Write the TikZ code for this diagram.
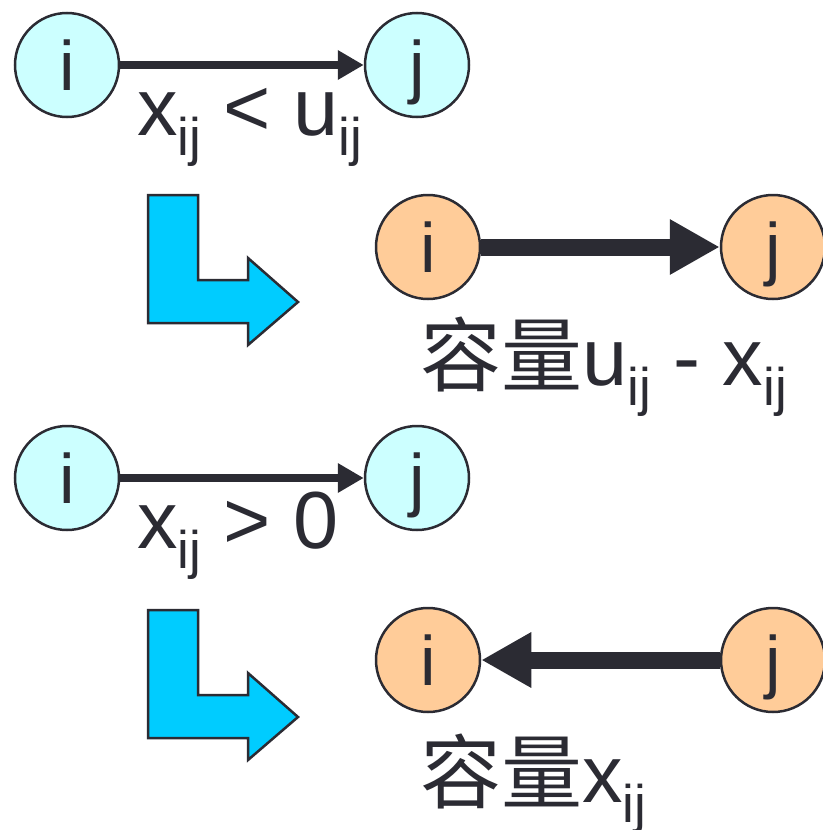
\documentclass[tikz,border=0pt]{standalone}
\usepackage{fontspec}
\setmainfont{Liberation Sans}
\newfontfamily\cjk{Noto Sans CJK SC}
\usetikzlibrary{arrows.meta,calc}
\definecolor{ink}{HTML}{2B2B33}
\definecolor{lcyan}{HTML}{CCFFFF}
\definecolor{lorange}{HTML}{FFCC99}
\definecolor{bcyan}{HTML}{00CCFF}
\newcommand{\sbj}[1]{\raisebox{-20pt}{\fontsize{53}{53}\selectfont #1}}
\begin{document}
\begin{tikzpicture}[x=1pt,y=-1pt,
  vert/.style={circle,draw=ink,line width=2.5pt,minimum size=104pt,inner sep=0pt},
  cv/.style={vert,fill=lcyan},
  ov/.style={vert,fill=lorange},
  letter/.style={anchor=base,inner sep=0pt,text=ink,font=\fontsize{70}{70}\selectfont},
  lbl/.style={anchor=base west,inner sep=0pt,text=ink,font=\fontsize{81}{81}\selectfont},
  thinarrow/.style={draw=ink,line width=8pt,-{Triangle[length=26pt,width=28pt]}},
  thickarrow/.style={draw=ink,line width=17pt,-{Triangle[length=50pt,width=52pt]}},
  bentarrow/.style={fill=bcyan,draw=ink,line width=2.5pt,line join=miter}]
\useasboundingbox (0,0) rectangle (822,830);

% row 1
\node[cv] (i1) at (67,65) {};
\node[cv] (j1) at (417,65) {};
\node[letter] (ti1) at (67,90) {i};
\node[letter] (tj1) at (417,90) {j};
\draw[thinarrow] (i1) -- (j1);
\node[lbl] (l1) at (137,135) {x\sbj{ij} < u\sbj{ij}};

% bent arrow 1
\draw[bentarrow] (148,195) -- (198,195) -- (198,280) -- (248,280) -- (248,258)
  -- (298,302) -- (248,345) -- (248,323) -- (148,323) -- cycle;

% row 2
\node[ov] (i2) at (428,247) {};
\node[ov] (j2) at (773,247) {};
\node[letter] (ti2) at (428,272) {i};
\node[letter] (tj2) at (773,272) {j};
\draw[thickarrow] (i2) -- (j2);
\node[lbl] (l2) at (420,385) {{\cjk 容量}u\sbj{ij} - x\sbj{ij}};

% row 3
\node[cv] (i3) at (67,478) {};
\node[cv] (j3) at (417,478) {};
\node[letter] (ti3) at (67,503) {i};
\node[letter] (tj3) at (417,503) {j};
\draw[thinarrow] (i3) -- (j3);
\node[lbl] (l3) at (137,548) {x\sbj{ij} > 0};

% bent arrow 2
\draw[bentarrow] (148,610) -- (198,610) -- (198,695) -- (248,695) -- (248,673)
  -- (298,717) -- (248,760) -- (248,738) -- (148,738) -- cycle;

% row 4
\node[ov] (i4) at (428,660) {};
\node[ov] (j4) at (773,660) {};
\node[letter] (ti4) at (428,685) {i};
\node[letter] (tj4) at (773,685) {j};
\draw[thickarrow] (j4) -- (i4);
\node[lbl] (l4) at (420,802) {{\cjk 容量}x\sbj{ij}};
\end{tikzpicture}
\end{document}
